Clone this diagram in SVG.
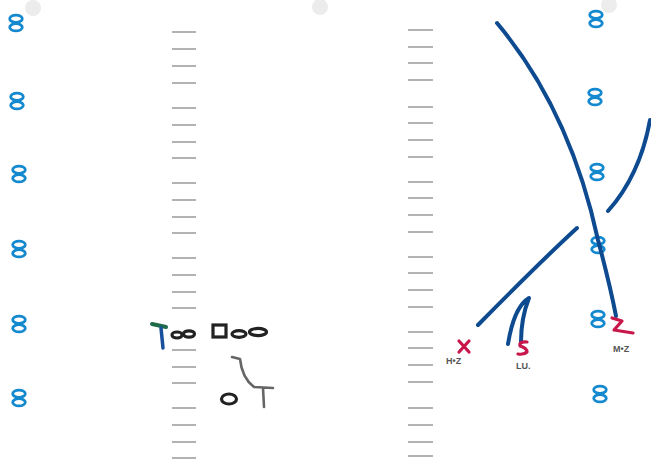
<svg xmlns="http://www.w3.org/2000/svg" width="651" height="462" viewBox="0 0 651 462">
<style>
.hash{stroke:#9a9a9a;stroke-width:1.6;fill:none}
.rcv{fill:none;stroke:#1489cf;stroke-width:2.8}
.route{fill:none;stroke:#0d4a8f;stroke-width:4;stroke-linecap:round;stroke-linejoin:round}
.def{fill:none;stroke:#c8174a;stroke-width:3.2;stroke-linecap:round;stroke-linejoin:round}
.lbl{font-family:"Liberation Sans",Arial,sans-serif;font-size:9px;font-weight:bold;fill:#555}
.ol{fill:none;stroke:#222;stroke-width:3.2}
</style>
<defs>
<g id="r00"><ellipse cx="0" cy="-4.3" rx="6.3" ry="3.6"/><ellipse cx="0" cy="4.3" rx="6.3" ry="3.6"/></g>
</defs>
<rect width="651" height="462" fill="#ffffff"/>
<g id="punch" fill="#ececec">
<circle cx="33" cy="8" r="8"/><circle cx="320" cy="7" r="8"/><circle cx="609" cy="5" r="8"/>
</g>
<g id="hash-left" class="hash">
<path d="M172 32h24M172 49h24M172 66h24M172 83h24M172 108h24M172 125h24M172 142h24M172 158h24M172 183h24M172 200h24M172 217h24M172 233h24M172 258h24M172 275h24M172 292h24M172 308h24M172 350h24M172 367h24M172 383h24M172 408h24M172 425h24M172 442h24M172 458h24"/>
</g>
<g id="hash-right" class="hash">
<path d="M408 30h25M408 47h25M408 63h25M408 80h25M408 107h25M408 123h25M408 140h25M408 157h25M408 182h25M408 198h25M408 215h25M408 232h25M408 257h25M408 273h25M408 290h25M408 307h25M408 332h25M408 348h25M408 365h25M408 382h25M408 408h25M408 425h25M408 442h25M408 456h25"/>
</g>
<g id="receivers-left" class="rcv">
<use href="#r00" x="16" y="23"/><use href="#r00" x="17" y="101"/><use href="#r00" x="19" y="174"/><use href="#r00" x="19" y="249"/><use href="#r00" x="19" y="324"/><use href="#r00" x="19" y="398"/>
</g>
<g id="receivers-right" class="rcv">
<use href="#r00" x="596" y="19"/><use href="#r00" x="595" y="97"/><use href="#r00" x="597" y="172"/><use href="#r00" x="598" y="245"/><use href="#r00" x="598" y="319"/><use href="#r00" x="600" y="394"/>
</g>
<g id="offense-line" class="ol">
<ellipse cx="177" cy="335" rx="5" ry="3"/>
<ellipse cx="189" cy="334" rx="5.5" ry="3.2"/>
<rect x="213" y="325" width="13" height="12"/>
<ellipse cx="239" cy="334" rx="7" ry="3.4"/>
<ellipse cx="258" cy="332" rx="8.5" ry="3.6"/>
</g>
<g id="tight-end">
<path d="M152 324 L166 327" stroke="#1f6b4a" stroke-width="4" stroke-linecap="round"/>
<path d="M161 328 Q162 338 163 348" stroke="#1a4f9c" stroke-width="3.5" fill="none" stroke-linecap="round"/>
</g>
<g id="qb">
<ellipse cx="229" cy="399" rx="7.5" ry="5" fill="none" stroke="#222" stroke-width="3.2"/>
</g>
<g id="back" fill="none" stroke="#666" stroke-width="2.6" stroke-linecap="round" stroke-linejoin="round">
<path d="M232 357 L240 359 Q242 378 254 387 L273 388 M263 388 L264 407"/>
</g>
<g id="connectors">
<path class="route" d="M497 23 Q570 110 598 240 Q610 285 616 316"/>
<path class="route" d="M650 120 Q640 175 608 211"/>
<path class="route" d="M577 228 Q540 262 478 325"/>
<path class="route" d="M508 344 Q514 307 529 298 Q521 318 521 342"/>
</g>
<g id="defender-x">
<path class="def" d="M459 341 L469 352 M469 341 L459 352"/>
<text class="lbl" x="446" y="364">H•Z</text>
</g>
<g id="defender-s">
<path class="def" d="M527 342 Q519 341 520 346 Q527 348 527 352 Q524 355 518 354"/>
<text class="lbl" x="516" y="369">LU.</text>
</g>
<g id="defender-z">
<path class="def" d="M612 318 L622 321 L614 330 L633 333"/>
<text class="lbl" x="613" y="352">M•Z</text>
</g>
</svg>
